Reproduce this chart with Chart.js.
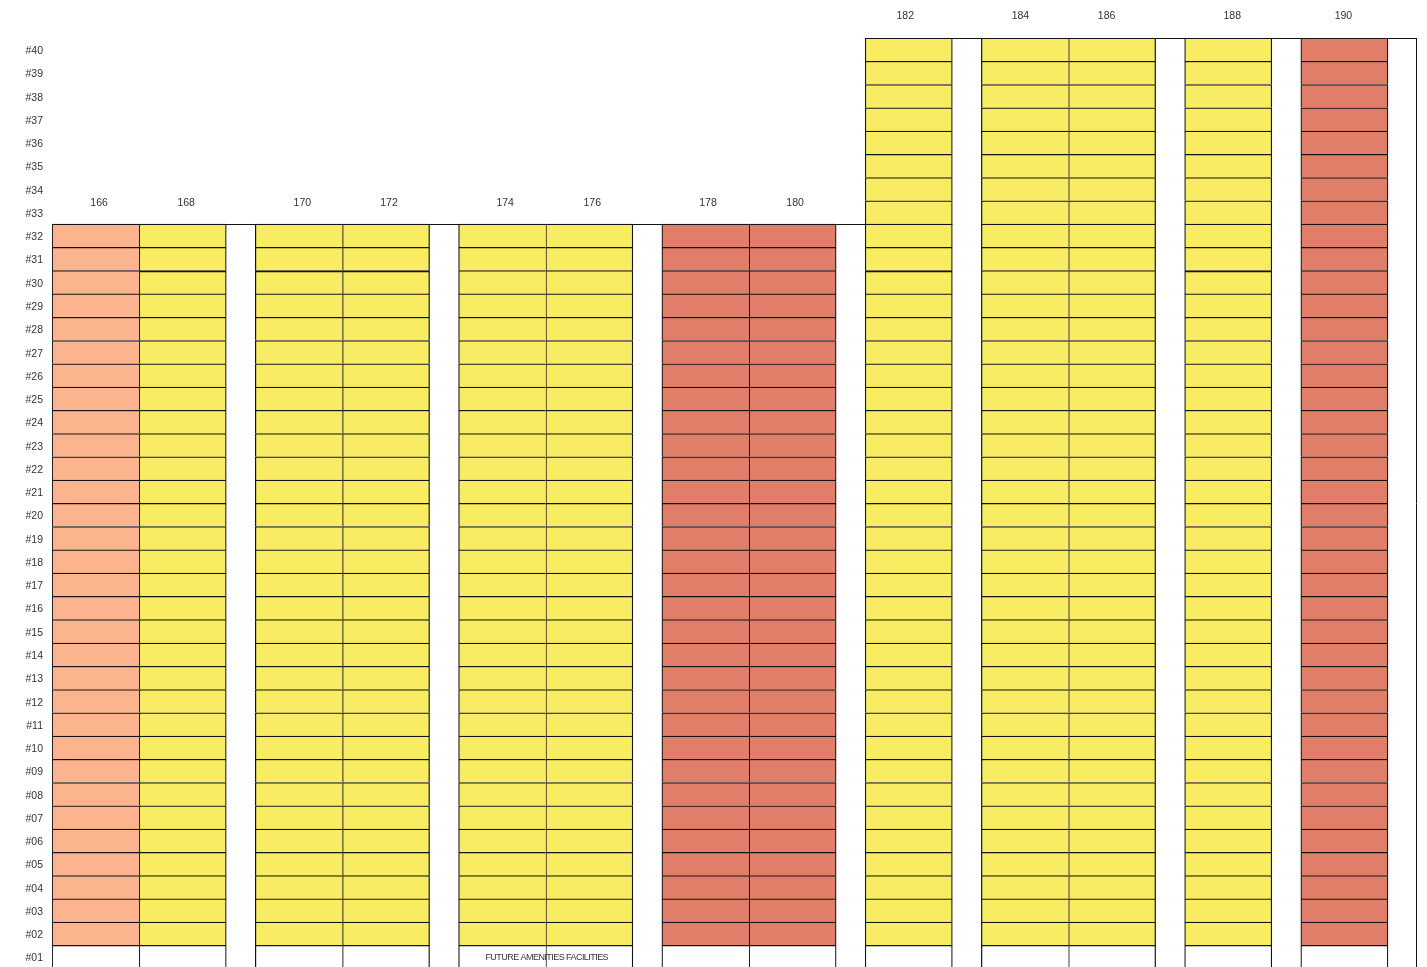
<!DOCTYPE html>
<html>
<head>
<meta charset="utf-8">
<title>Stacking plan</title>
<script src="https://cdn.jsdelivr.net/npm/chart.js@4"></script>
<style>
    html, body { margin: 0; padding: 0; background: #fff; overflow: hidden; height: 967px; }
    canvas { display: block; }
</style>
</head>
<body>
<canvas id="chart" width="1427" height="984"></canvas>
<script>
const floorLabels = ['#40', '#39', '#38', '#37', '#36', '#35', '#34', '#33', '#32', '#31',
    '#30', '#29', '#28', '#27', '#26', '#25', '#24', '#23', '#22', '#21',
    '#20', '#19', '#18', '#17', '#16', '#15', '#14', '#13', '#12', '#11',
    '#10', '#09', '#08', '#07', '#06', '#05', '#04', '#03', '#02', '#01'];
const unitNumbers = ['166', '168', '170', '172', '174', '176', '178', '180', '182', '184', '186', '188', '190'];
const blockSizes = [2, 2, 2, 2, 1, 2, 1, 1];
const unitTopFloor = [32, 32, 32, 32, 32, 32, 32, 32, 40, 40, 40, 40, 40];
const unitStatus = ['peach', 'yellow', 'yellow', 'yellow', 'yellow', 'yellow', 'red', 'red', 'yellow', 'yellow', 'yellow', 'yellow', 'red'];
const heavyLineUnits = ['168', '170', '172', '182', '188'];
const heavyLineFloor = '#30';
const noteText = 'FUTURE AMENITIES FACILITIES';
const noteUnits = ['174', '176'];
const noteFloor = '#01';

const statusColors = { peach: '#fbb48d', yellow: '#f8ed62', red: '#e07e69', blank: '#ffffff' };
const labelShift = [3.5, 3.5, 3.5, 3, 3, 3, 2.5, 2.5, -3.5, -4.5, -5.5, 4, -1];
const gapSize = 1 / 3;

// walk the blocks so each unit gets its span on the x scale
const unitSpans = [];
let cursor = 0;
blockSizes.forEach(size => {
    for (let i = 0; i < size; i++) {
        unitSpans.push([cursor, cursor + 1]);
        cursor += 1;
    }
    cursor += gapSize;
});

const datasets = unitNumbers.map((unit, u) => ({
    label: unit,
    data: floorLabels.map(floor => (parseInt(floor.slice(1)) <= unitTopFloor[u] ? unitSpans[u] : null)),
    backgroundColor: ctx => (ctx.dataIndex === floorLabels.length - 1 ? statusColors.blank : statusColors[unitStatus[u]]),
    borderColor: '#141414',
    borderSkipped: false,
    borderWidth: ctx => {
        const heavy = heavyLineUnits.includes(unit) && floorLabels[ctx.dataIndex] === heavyLineFloor;
        const endsBlock = u === unitNumbers.length - 1 || unitSpans[u + 1][0] > unitSpans[u][1];
        return { top: heavy ? 2 : 1.25, left: 1.25, right: endsBlock ? 1.25 : 0, bottom: 0 };
    }
}));

const sitePlanLabels = {
    id: 'sitePlanLabels',
    afterDatasetsDraw(chart) {
        const { ctx, scales: { x, y }, chartArea } = chart;
        const rowHeight = y.getPixelForValue(1) - y.getPixelForValue(0);
        const rowTop = floor => y.getPixelForValue(floorLabels.indexOf(floor)) - rowHeight / 2;
        const firstTall = unitTopFloor.indexOf(40);

        ctx.save();
        ctx.strokeStyle = '#141414';
        ctx.lineWidth = 1;
        ctx.beginPath();
        // roof across the gaps, low part then tall part, and the right edge
        const lowRoof = Math.round(rowTop('#32')) + 0.5;
        const highRoof = Math.round(rowTop('#40')) + 0.5;
        ctx.moveTo(x.getPixelForValue(0), lowRoof);
        ctx.lineTo(x.getPixelForValue(unitSpans[firstTall][1]), lowRoof);
        ctx.moveTo(x.getPixelForValue(unitSpans[firstTall][0]), highRoof);
        ctx.lineTo(chartArea.right, highRoof);
        ctx.moveTo(chartArea.right - 0.5, highRoof);
        ctx.lineTo(chartArea.right - 0.5, chartArea.bottom);
        ctx.stroke();

        ctx.fillStyle = '#333';
        ctx.textAlign = 'center';
        ctx.textBaseline = 'middle';
        ctx.font = '10.5px "Liberation Sans"';
        unitNumbers.forEach((unit, u) => {
            const centre = x.getPixelForValue((unitSpans[u][0] + unitSpans[u][1]) / 2) + labelShift[u];
            ctx.fillText(unit, centre, rowTop('#' + unitTopFloor[u]) - 21.5);
        });

        ctx.font = '9px "Liberation Sans"';
        ctx.letterSpacing = '-0.55px';
        const a = unitSpans[unitNumbers.indexOf(noteUnits[0])][0];
        const b = unitSpans[unitNumbers.indexOf(noteUnits[1])][1];
        ctx.fillText(noteText, x.getPixelForValue((a + b) / 2) + 1, rowTop(noteFloor) + rowHeight / 2);
        ctx.restore();
    }
};

new Chart(document.getElementById('chart'), {
    type: 'bar',
    data: { labels: floorLabels, datasets: datasets },
    options: {
        indexAxis: 'y',
        responsive: false,
        animation: false,
        grouped: false,
        categoryPercentage: 1,
        barPercentage: 1,
        layout: { autoPadding: false, padding: { top: 38, right: 10, bottom: 0, left: 0 } },
        plugins: { legend: { display: false }, tooltip: { enabled: false } },
        scales: {
            x: { type: 'linear', display: false, min: 0, max: cursor },
            y: {
                grid: { display: false, drawTicks: false },
                border: { display: false },
                afterFit: scale => { scale.width = 52; },
                ticks: {
                    autoSkip: false,
                    padding: 9,
                    labelOffset: 1.5,
                    color: '#333',
                    font: { family: '"Liberation Sans"', size: 10.5 }
                }
            }
        }
    },
    plugins: [sitePlanLabels]
});
</script>
</body>
</html>
